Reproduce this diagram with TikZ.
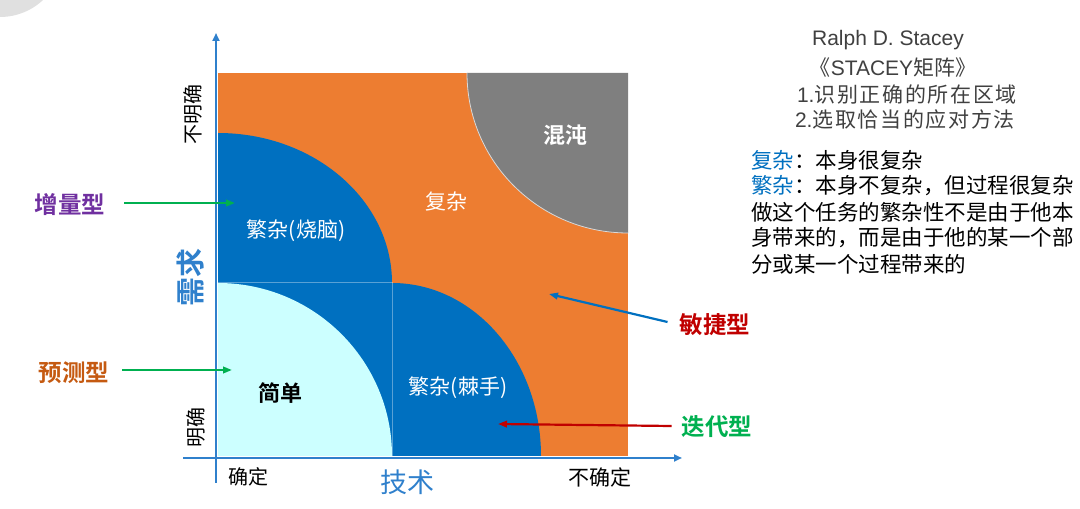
\documentclass[tikz,border=0pt]{standalone}
\usepackage{fontspec}
\setmainfont{Liberation Sans}
\newfontfamily\cjk{Noto Sans CJK SC}[BoldFont={Noto Sans CJK SC Bold}]
\usetikzlibrary{arrows.meta,positioning}

\definecolor{stOrange}{HTML}{ED7D31}
\definecolor{stBlue}{HTML}{0070C0}
\definecolor{stCyan}{HTML}{CCFFFF}
\definecolor{stGray}{HTML}{7F7F7F}
\definecolor{axisBlue}{HTML}{2F80CC}
\definecolor{stGreen}{HTML}{00B050}
\definecolor{stRed}{HTML}{C00000}
\definecolor{stPurple}{HTML}{7030A0}
\definecolor{stBrown}{HTML}{C55A11}
\definecolor{textGray}{HTML}{404040}

\newcommand\fsz[1]{\fontsize{#1}{#1}\selectfont}

\tikzset{
  zone/.style={inner sep=0pt, text=white, font=\cjk\fsz{21pt}},
  axisline/.style={draw=axisBlue, line width=2.6pt, -{Triangle[length=8pt,width=7pt]}},
  axislbl/.style={inner sep=0pt, font=\cjk\fsz{20pt}},
  kind/.style={inner sep=0pt, font=\cjk\bfseries\fsz{23.5pt}},
  pointer/.style={line width=2.2pt, -{Triangle[length=9pt,width=6.5pt]}},
  head/.style={inner sep=0pt, text=textGray, font=\fsz{21pt}},
  note/.style={inner sep=0pt, font=\cjk\fsz{21.5pt}},
}

\begin{document}
\begin{tikzpicture}[x=1pt,y=1pt]
\useasboundingbox (0,0) rectangle (1080,509);
\fill[black!12] (0,555) circle[radius=63pt];

% regions of the matrix
\fill[stOrange] (218,53) rectangle (628,436);
\fill[stGray] (628,436) -- (467,436)
  arc[start angle=180, end angle=270, x radius=161pt, y radius=160pt] -- cycle;
\draw[white!70!gray, line width=0.8pt] (467,436)
  arc[start angle=180, end angle=270, x radius=161pt, y radius=160pt];
\fill[stBlue] (218,226) -- (392,226)
  arc[start angle=0, end angle=90, x radius=174pt, y radius=150pt] -- cycle;
\fill[stBlue] (392,53) -- (541,53)
  arc[start angle=0, end angle=90, x radius=149pt, y radius=173pt] -- cycle;
\fill[stBlue] (218,53) rectangle (392,226);
\fill[stCyan] (218,53) -- (392,53)
  arc[start angle=0, end angle=90, x radius=174pt, y radius=173pt] -- cycle;
\draw[white, opacity=0.35, line width=1pt] (218,226) -- (392,226) -- (392,53);

% axes
\coordinate (ybot) at (216,26);
\coordinate (ytop) at (216,476);
\coordinate (xleft) at (183,51);
\coordinate (xright) at (682,51);
\draw[axisline] (ybot) -- (ytop);
\draw[axisline] (xleft) -- (xright);

% zones
\node[zone, text=black, font=\cjk\bfseries\fsz{22pt}] (simple) at (280,116) {简单};
\node[zone] (fzA) at (296,278) {繁杂(烧脑)};
\node[zone] (fzB) at (458,121) {繁杂(棘手)};
\node[zone] (complex) at (446,307) {复杂};
\node[zone, font=\cjk\bfseries\fsz{22pt}] (chaos) at (565,374) {混沌};

% axis labels
\node[axislbl] (techL) at (248,32) {确定};
\node[axislbl, font=\cjk\fsz{21pt}] (techR) at (600,32) {不确定};
\node[axislbl, text=axisBlue, font=\cjk\fsz{27pt}] (tech) at (407,27) {技术};
\node[axislbl, rotate=90] (reqT) at (193,394) {不明确};
\node[axislbl, rotate=90] (reqB) at (196,81) {明确};
\node[axislbl, rotate=90, text=axisBlue, font=\cjk\bfseries\fsz{29pt}] (req) at (190,231) {需求};

% approaches
\node[kind, text=stPurple] (incr) at (70,304) {增量型};
\node[kind, text=stBrown] (pred) at (74,136) {预测型};
\node[kind, text=stRed] (agile) at (715,184) {敏捷型};
\node[kind, text=stGreen] (iter) at (717,82) {迭代型};
\coordinate (incrTip) at (235,306);
\coordinate (predTip) at (232,139);
\coordinate (agileTip) at (549,215);
\coordinate (iterTip) at (498,85);
\draw[pointer, stGreen] ([xshift=19pt,yshift=2pt]incr.east) -- (incrTip);
\draw[pointer, stGreen] ([xshift=13pt,yshift=3pt]pred.east) -- (predTip);
\draw[pointer, stBlue] ([xshift=-12pt,yshift=3pt]agile.west) -- (agileTip);
\draw[pointer, stRed] ([xshift=-10pt,yshift=1pt]iter.west) -- (iterTip);

% notes
\node[head] (author) at (888,469) {Ralph D. Stacey};
\node[head] (title) at (893,441) {{\cjk 《}STACEY{\cjk 矩阵》}};
\node[head] (stepA) at (907,414) {1.{\cjk\addfontfeature{LetterSpace=8}识别正确的所在区域}};
\node[head] (stepB) at (905,389) {2.{\cjk\addfontfeature{LetterSpace=8}选取恰当的应对方法}};
\node[note, anchor=west] (defA) at (751,349) {\textcolor{stBlue}{复杂}：本身很复杂};
\node[note, below=26pt of defA.west, anchor=west] (defB) {\textcolor{stBlue}{繁杂}：本身不复杂，但过程很复杂};
\node[note, below=26pt of defB.west, anchor=west] (defC) {做这个任务的繁杂性不是由于他本};
\node[note, below=26pt of defC.west, anchor=west] (defD) {身带来的，而是由于他的某一个部};
\node[note, below=26pt of defD.west, anchor=west] (defE) {分或某一个过程带来的};
\end{tikzpicture}
\end{document}
